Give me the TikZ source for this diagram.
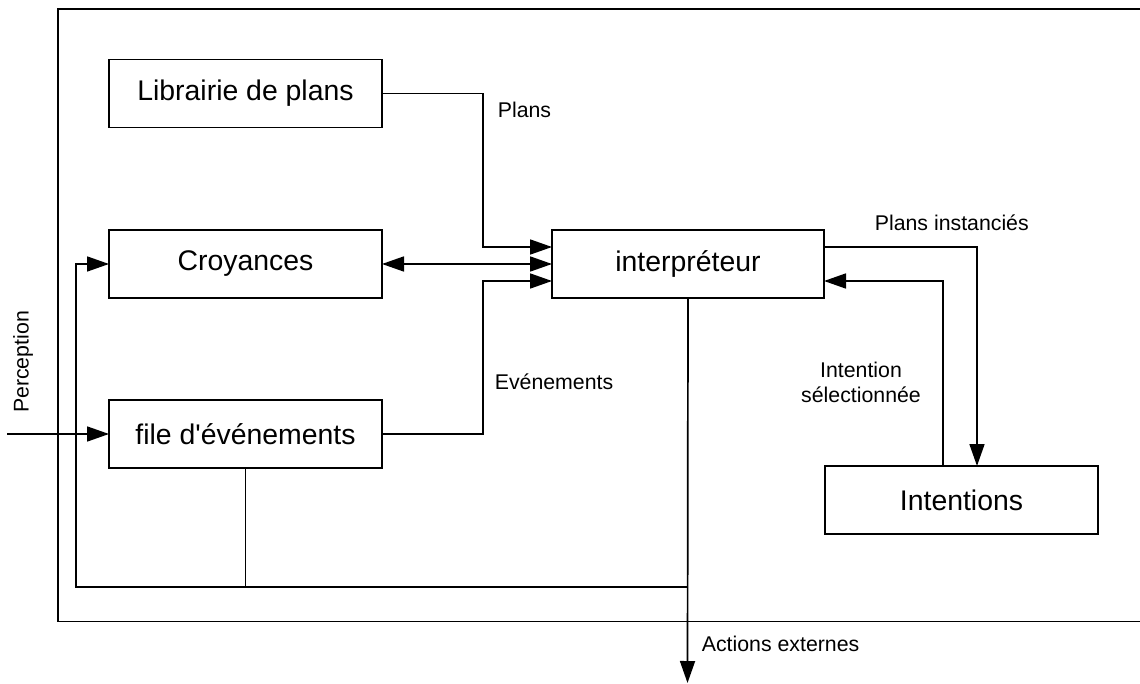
\documentclass[tikz,border=0pt]{standalone}
\usepackage{fontspec}
\setmainfont{Liberation Sans}[Ligatures=TeXOff]
\usetikzlibrary{arrows.meta}
\begin{document}
\begin{tikzpicture}[x=1pt,y=-1pt,
  every path/.style={line width=1.7pt},
  box/.style={draw,rectangle,minimum width=273pt,minimum height=68pt,inner sep=0pt,outer sep=0pt,
    font=\fontsize{28.4}{34}\selectfont},
  lbl/.style={inner sep=0pt,font=\fontsize{21.3}{25.5}\selectfont},
  arr/.style={-{Triangle[length=22pt,width=15pt]}},
  arrb/.style={{Triangle[length=22pt,width=15pt]}-{Triangle[length=22pt,width=15pt]}}]
\useasboundingbox (0,0) rectangle (1140,684);
% outer frame (right side lies outside the picture)
\draw (1145,8.7) -- (58,8.7) -- (58,621.5) -- (1145,621.5);
% boxes
\node[box] (lib) at (245.5,93.5) {Librairie de plans};
\node[box] (cro) at (245.5,264) {Croyances};
\node[box] (fil) at (245.5,434) {file d'événements};
\node[box,minimum width=272pt] (int) at (688,264) {interpréteur};
\node[box] (ins) at (961.5,500) {Intentions};
% free ends
\coordinate (pin) at (7,434);
\coordinate (aout) at (687.5,683);
% connectors
\draw[arr] (lib.east) -| (483.3,247) -- (int.west |- 0,247);
\draw[arrb] (cro.east) -- (int.west);
\draw[arr] (fil.east) -| (483.3,281) -- (int.west |- 0,281);
\draw[arr] (int.east |- 0,247) -| (ins.north -| 977,0);
\draw[arr] (ins.north -| 943,0) |- (int.east |- 0,281);
\draw[arr] (pin) -- (fil.west);
\draw (fil.south) -- (fil.south |- 0,587);
\draw[arr] (int.south |- 0,587) -| (76,264) -- (cro.west);
\draw[arr] (int.south) -- (aout);
% labels
\node[lbl,anchor=west] (lplans) at (497,110) {Plans};
\node[lbl,anchor=west] (lev) at (494,382) {Evénements};
\node[lbl,anchor=west] (lpi) at (874,223) {Plans instanciés};
\node[lbl,align=center] (lis) at (861,382.5) {Intention\\sélectionnée};
\node[lbl,anchor=west] (lact) at (701,644) {Actions externes};
\node[lbl,rotate=90] (lper) at (23,362) {Perception};
\end{tikzpicture}
\end{document}
